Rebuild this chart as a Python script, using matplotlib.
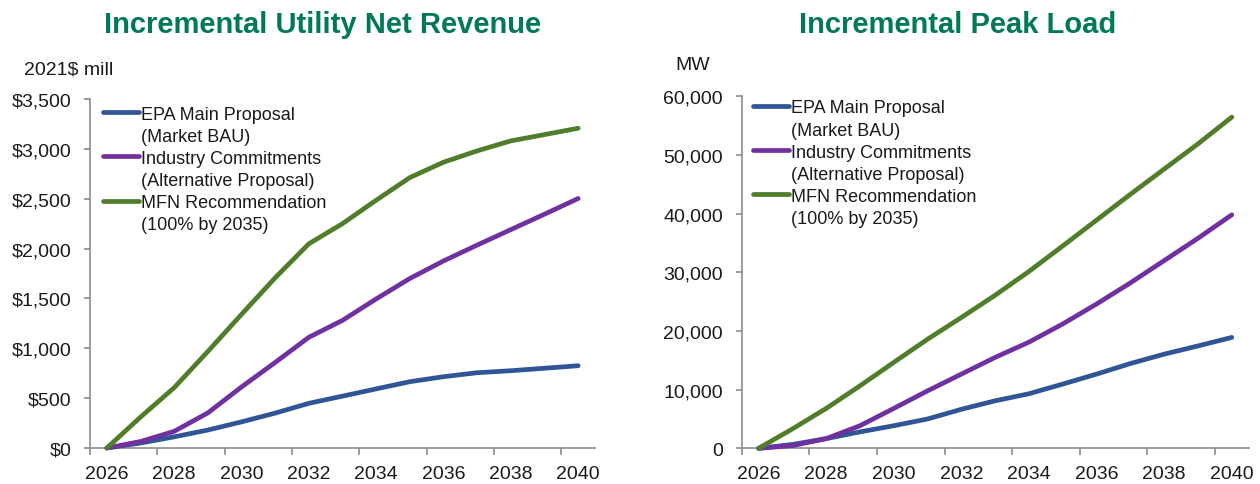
import matplotlib
matplotlib.use("Agg")
import matplotlib.pyplot as plt
from matplotlib.lines import Line2D
from matplotlib.ticker import FuncFormatter, MultipleLocator, FixedLocator

plt.rcParams['font.family'] = ['Liberation Sans', 'DejaVu Sans']

years = list(range(2026, 2041))
tick_years = [2026, 2028, 2030, 2032, 2034, 2036, 2038, 2040]

series_names = ["EPA Main Proposal", "Industry Commitments", "MFN Recommendation"]
series_sub = ["(Market BAU)", "(Alternative Proposal)", "(100% by 2035)"]

# Incremental Utility Net Revenue (2021$ mill)
epa_rev = [0, 50, 112, 180, 262, 350, 448, 520, 593, 665, 715, 755, 775, 800, 825]
ind_rev = [0, 65, 167, 352, 612, 858, 1110, 1280, 1495, 1700, 1876, 2035, 2190, 2345, 2502]
mfn_rev = [0, 310, 605, 968, 1340, 1707, 2048, 2250, 2485, 2712, 2866, 2980, 3080, 3143, 3207]

# Incremental Peak Load (MW)
epa_mw = [0, 650, 1650, 2800, 3850, 5000, 6650, 8100, 9300, 10950, 12650, 14450, 16050, 17450, 18900]
ind_mw = [0, 450, 1650, 3850, 6800, 9800, 12650, 15500, 18100, 21200, 24600, 28200, 32000, 35800, 39800]
mfn_mw = [0, 3300, 6800, 10650, 14650, 18600, 22300, 26100, 30150, 34500, 38900, 43300, 47600, 51900, 56450]

colors = ["#2F5597", "#7030A0", "#507D2A"]
title_color = "#00785A"
axis_color = "#8C8C8C"
text_color = "#1A1A1A"

W, H = 1260, 485
fig = plt.figure(figsize=(W / 100, H / 100), dpi=100)

ax1 = fig.add_axes([90 / W, 1 - 449 / H, 505 / W, 349 / H])
ax2 = fig.add_axes([741.7 / W, 1 - 449.3 / H, 507 / W, 352 / H])


def style(ax, ymax, ystep, fmt, legend_anchor):
    ax.set_xlim(2025.5, 2040.5)
    ax.set_ylim(0, ymax)
    for s in ("top", "right"):
        ax.spines[s].set_visible(False)
    for s in ("left", "bottom"):
        ax.spines[s].set_color(axis_color)
        ax.spines[s].set_linewidth(1.2)
    ax.xaxis.set_major_locator(FixedLocator(tick_years))
    ax.xaxis.set_minor_locator(FixedLocator([y - 0.5 for y in tick_years]))
    ax.tick_params(axis="x", which="major", length=0, pad=12, labelsize=14, labelcolor=text_color)
    ax.tick_params(axis="x", which="minor", length=5.2, width=1.2, color=axis_color, direction="out")
    ax.yaxis.set_major_locator(MultipleLocator(ystep))
    ax.yaxis.set_major_formatter(FuncFormatter(fmt))
    ax.tick_params(axis="y", which="major", length=4.4, width=1.2, color=axis_color,
                   direction="out", pad=9, labelsize=14, labelcolor=text_color)
    ax.set_xticklabels([str(y) for y in tick_years])


def draw(ax, data):
    handles = []
    labels = []
    for vals, c, name, sub in zip(data, colors, series_names, series_sub):
        ln, = ax.plot(years, vals, color=c, lw=3.4, solid_capstyle="round",
                      solid_joinstyle="round", clip_on=False, zorder=3)
        handles.append(Line2D([], [], color=c, lw=3.4, solid_capstyle="round"))
        labels.append(name)
        handles.append(Line2D([], [], color="none", lw=0))
        labels.append(sub)
    return handles, labels


h1, l1 = draw(ax1, [epa_rev, ind_rev, mfn_rev])
h2, l2 = draw(ax2, [epa_mw, ind_mw, mfn_mw])

style(ax1, 3500, 500, lambda v, p: "${:,.0f}".format(v), None)
style(ax2, 60000, 10000, lambda v, p: "{:,.0f}".format(v), None)

for ax, h, l, anchor in ((ax1, h1, l1, (0.026, 0.981)), (ax2, h2, l2, (0.0223, 0.991))):
    leg = ax.legend(h, l, loc="upper left", bbox_to_anchor=anchor, frameon=False,
                    fontsize=13, handlelength=2.0, handletextpad=0.12,
                    borderpad=0, borderaxespad=0, labelspacing=0.28)
    for t in leg.get_texts():
        t.set_color(text_color)

fig.text(323 / W, 1 - 33 / H, "Incremental Utility Net Revenue", ha="center", va="baseline",
         fontsize=21, fontweight="bold", color=title_color)
fig.text(958 / W, 1 - 33 / H, "Incremental Peak Load", ha="center", va="baseline",
         fontsize=21, fontweight="bold", color=title_color)

fig.text(24 / W, 1 - 75 / H, "2021$ mill", ha="left", va="baseline", fontsize=14, color=text_color)
fig.text(675 / W, 1 - 70 / H, "MW", ha="left", va="baseline", fontsize=14, color=text_color)

fig.savefig("out.png", dpi=100)
